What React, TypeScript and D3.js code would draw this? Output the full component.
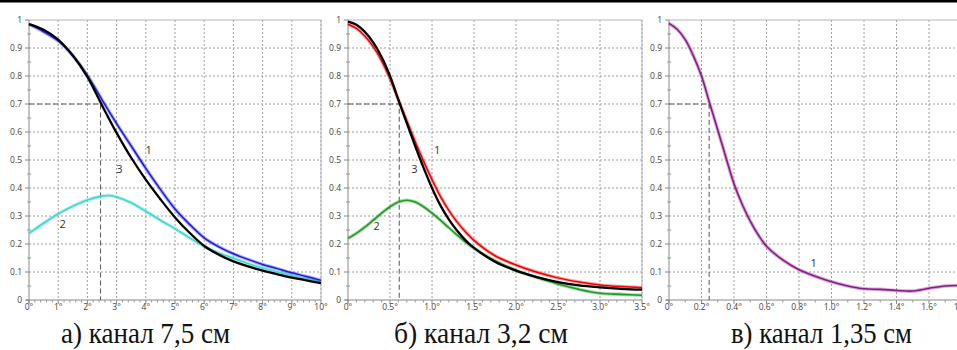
import React, { useEffect, useRef } from 'react';
import * as d3 from 'd3';

type Pt = [number, number];

// а) канал 7,5 см
const A_CURVE1: Pt[] = [
  [0, 0.985], [0.5, 0.958], [1, 0.925], [1.5, 0.873], [2, 0.802], [2.5, 0.715], [3, 0.63],
  [3.5, 0.55], [4, 0.47], [4.5, 0.395], [5, 0.325], [5.5, 0.27], [6, 0.222], [6.5, 0.19],
  [7, 0.165], [7.5, 0.145], [8, 0.127], [8.5, 0.112], [9, 0.097], [9.5, 0.084], [10, 0.07],
];
const A_CURVE2: Pt[] = [
  [0, 0.238], [0.5, 0.274], [1, 0.308], [1.5, 0.335], [2, 0.357], [2.5, 0.371], [2.75, 0.373],
  [3, 0.368], [3.5, 0.347], [4, 0.317], [4.5, 0.285], [5, 0.255], [5.5, 0.222], [6, 0.192],
  [6.5, 0.168], [7, 0.149], [7.5, 0.13], [8, 0.114], [8.5, 0.1], [9, 0.087], [9.5, 0.075], [10, 0.065],
];
const A_CURVE3: Pt[] = [
  [0, 0.985], [0.5, 0.965], [1, 0.93], [1.5, 0.873], [2, 0.797], [2.5, 0.695], [3, 0.597],
  [3.5, 0.508], [4, 0.43], [4.5, 0.36], [5, 0.295], [5.5, 0.24], [6, 0.193], [6.5, 0.162],
  [7, 0.138], [7.5, 0.12], [8, 0.105], [8.5, 0.092], [9, 0.08], [9.5, 0.07], [10, 0.06],
];

// б) канал 3,2 см
const B_CURVE1: Pt[] = [
  [0, 0.985], [0.1, 0.97], [0.2, 0.943], [0.3, 0.905], [0.4, 0.855], [0.5, 0.79], [0.6, 0.715],
  [0.7, 0.64], [0.8, 0.565], [0.9, 0.495], [1, 0.43], [1.1, 0.37], [1.2, 0.32], [1.3, 0.278],
  [1.4, 0.243], [1.5, 0.213], [1.75, 0.158], [2, 0.125], [2.25, 0.099], [2.5, 0.079], [2.75, 0.064],
  [3, 0.054], [3.25, 0.048], [3.5, 0.044],
];
const B_CURVE2: Pt[] = [
  [0, 0.22], [0.1, 0.238], [0.2, 0.26], [0.3, 0.285], [0.4, 0.31], [0.5, 0.333], [0.6, 0.35],
  [0.7, 0.356], [0.8, 0.35], [0.9, 0.333], [1, 0.31], [1.1, 0.285], [1.2, 0.258], [1.3, 0.232],
  [1.4, 0.207], [1.5, 0.185], [1.75, 0.14], [2, 0.106], [2.25, 0.08], [2.5, 0.057], [2.75, 0.038],
  [3, 0.024], [3.25, 0.02], [3.5, 0.017],
];
const B_CURVE3: Pt[] = [
  [0, 0.994], [0.1, 0.983], [0.2, 0.958], [0.3, 0.92], [0.4, 0.868], [0.5, 0.8], [0.6, 0.715],
  [0.7, 0.632], [0.8, 0.55], [0.9, 0.472], [1, 0.4], [1.1, 0.338], [1.2, 0.288], [1.3, 0.247],
  [1.4, 0.213], [1.5, 0.186], [1.75, 0.137], [2, 0.105], [2.25, 0.082], [2.5, 0.064], [2.75, 0.052],
  [3, 0.045], [3.25, 0.04], [3.5, 0.037],
];

// в) канал 1,35 см
const C_CURVE1: Pt[] = [
  [0, 0.988], [0.05, 0.967], [0.1, 0.93], [0.15, 0.872], [0.2, 0.8], [0.25, 0.703], [0.3, 0.607],
  [0.35, 0.51], [0.4, 0.415], [0.45, 0.342], [0.5, 0.282], [0.55, 0.232], [0.6, 0.192], [0.7, 0.143],
  [0.8, 0.108], [0.9, 0.085], [1, 0.065], [1.1, 0.05], [1.2, 0.04], [1.3, 0.038], [1.4, 0.034],
  [1.5, 0.032], [1.6, 0.042], [1.7, 0.05], [1.8, 0.052],
];

const Y_TICKS = [0, 0.1, 0.2, 0.3, 0.4, 0.5, 0.6, 0.7, 0.8, 0.9, 1];
const Y_LABELS = ['0', '0.1', '0.2', '0.3', '0.4', '0.5', '0.6', '0.7', '0.8', '0.9', '1'];
const A_X_TICKS = [0, 1, 2, 3, 4, 5, 6, 7, 8, 9, 10];
const A_X_LABELS = ['0°', '1°', '2°', '3°', '4°', '5°', '6°', '7°', '8°', '9°', '10°'];
const B_X_TICKS = [0, 0.5, 1, 1.5, 2, 2.5, 3, 3.5];
const B_X_LABELS = ['0°', '0.5°', '1.0°', '1.5°', '2.0°', '2.5°', '3.0°', '3.5°'];
const C_X_TICKS = [0, 0.2, 0.4, 0.6, 0.8, 1, 1.2, 1.4, 1.6, 1.8];
const C_X_LABELS = ['0°', '0.2°', '0.4°', '0.6°', '0.8°', '1.0°', '1.2°', '1.4°', '1.6°', '1.8°'];
const CAPTIONS = ['а) канал 7,5 см', 'б) канал 3,2 см', 'в) канал 1,35 см'];
const LEVEL = 0.7;
const CROSS = [2.45, 0.61, 0.247];

const App: React.FC = () => {
  const svgRef = useRef<SVGSVGElement>(null);

  useEffect(() => {
    if (!svgRef.current) return;
    const svg = d3.select(svgRef.current);
    svg.selectAll('*').remove();

    const top = 20;
    const bottom = 300;

    const panels = [
      {
        left: 29, right: 321, max: 10, ticks: A_X_TICKS, labels: A_X_LABELS, minor: 5, box: true,
        caption: CAPTIONS[0], capX: 61, capW: 169, cross: CROSS[0],
        series: [
          { d: A_CURVE2, color: '#40d8cc', w: 1.6, fuzz: true },
          { d: A_CURVE1, color: '#1a1ae0', w: 1.5, fuzz: true },
          { d: A_CURVE3, color: '#000', w: 2.3, fuzz: false },
        ],
        marks: [{ t: '1', x: 4.1, y: 0.535 }, { t: '3', x: 3.1, y: 0.468 }, { t: '2', x: 1.15, y: 0.27 }],
      },
      {
        left: 348, right: 642, max: 3.5, ticks: B_X_TICKS, labels: B_X_LABELS, minor: 5, box: true,
        caption: CAPTIONS[1], capX: 394, capW: 174, cross: CROSS[1],
        series: [
          { d: B_CURVE2, color: '#1f9a1f', w: 1.6, fuzz: true },
          { d: B_CURVE1, color: '#f00000', w: 1.5, fuzz: true },
          { d: B_CURVE3, color: '#000', w: 2.3, fuzz: false },
        ],
        marks: [{ t: '1', x: 1.06, y: 0.535 }, { t: '3', x: 0.79, y: 0.468 }, { t: '2', x: 0.34, y: 0.265 }],
      },
      {
        left: 669, right: 669 + 1.8 * 162.5, max: 1.8, ticks: C_X_TICKS, labels: C_X_LABELS, minor: 2, box: false,
        caption: CAPTIONS[2], capX: 731, capW: 181, cross: CROSS[2],
        series: [{ d: C_CURVE1, color: '#8a1a8a', w: 1.6, fuzz: true }],
        marks: [{ t: '1', x: 0.89, y: 0.13 }],
      },
    ];

    // top rule
    svg.append('rect').attr('x', 0).attr('y', 0).attr('width', 957).attr('height', 2.5).attr('fill', '#000');

    panels.forEach(p => {
      const x = d3.scaleLinear().domain([0, p.max]).range([p.left, p.right]);
      const y = d3.scaleLinear().domain([0, 1]).range([bottom, top]);
      const g = svg.append('g');

      // grid
      g.selectAll('.gy').data(Y_TICKS.slice(1, -1)).enter().append('line')
        .attr('x1', p.left).attr('x2', p.right)
        .attr('y1', d => y(d)).attr('y2', d => y(d))
        .attr('stroke', '#a0a0a0').attr('stroke-width', 1).attr('stroke-dasharray', '2,2');
      g.selectAll('.gx').data(p.ticks.slice(1)).enter().append('line')
        .attr('x1', d => x(d)).attr('x2', d => x(d))
        .attr('y1', top).attr('y2', bottom)
        .attr('stroke', '#a0a0a0').attr('stroke-width', 1).attr('stroke-dasharray', '2,2');

      // frame
      g.append('line').attr('x1', p.left).attr('x2', p.right).attr('y1', top).attr('y2', top)
        .attr('stroke', '#b5b5b5');
      if (p.box) {
        g.append('line').attr('x1', p.right).attr('x2', p.right).attr('y1', top).attr('y2', bottom)
          .attr('stroke', '#b5b5b5');
      }
      g.append('line').attr('x1', p.left).attr('x2', p.left).attr('y1', top).attr('y2', bottom + 3)
        .attr('stroke', '#888');
      g.append('line').attr('x1', p.left - 3).attr('x2', p.right).attr('y1', bottom).attr('y2', bottom)
        .attr('stroke', '#888');

      // y ticks
      g.selectAll('.ty').data(Y_TICKS).enter().append('line')
        .attr('x1', p.left - 4).attr('x2', p.left)
        .attr('y1', d => y(d)).attr('y2', d => y(d)).attr('stroke', '#888');
      g.selectAll('.tym').data(Y_TICKS.slice(0, -1)).enter().append('line')
        .attr('x1', p.left - 2).attr('x2', p.left + 2)
        .attr('y1', d => y(d + 0.05)).attr('y2', d => y(d + 0.05)).attr('stroke', '#999');
      g.selectAll('.ly').data(Y_TICKS).enter().append('text')
        .attr('x', p.left - 7).attr('y', d => y(d)).attr('dy', '0.35em')
        .attr('text-anchor', 'end')
        .style('font-family', "'Open Sans', sans-serif").style('font-size', '8.5px').style('fill', '#444')
        .text((d, i) => Y_LABELS[i]);

      // x ticks
      const step = p.ticks[1] - p.ticks[0];
      const minorTicks: number[] = [];
      p.ticks.slice(0, -1).forEach(t => {
        for (let k = 1; k < p.minor; k++) minorTicks.push(t + (step * k) / p.minor);
      });
      g.selectAll('.tx').data(p.ticks).enter().append('line')
        .attr('x1', d => x(d)).attr('x2', d => x(d))
        .attr('y1', bottom).attr('y2', bottom + 4).attr('stroke', '#888');
      g.selectAll('.txm').data(minorTicks).enter().append('line')
        .attr('x1', d => x(d)).attr('x2', d => x(d))
        .attr('y1', bottom).attr('y2', bottom + 2.5).attr('stroke', '#999');
      g.selectAll('.lx').data(p.ticks).enter().append('text')
        .attr('x', d => x(d)).attr('y', bottom + 10)
        .attr('text-anchor', 'middle')
        .style('font-family', "'Open Sans', sans-serif").style('font-size', '8.5px').style('fill', '#444')
        .text((d, i) => p.labels[i]);

      // 0.7 level guide
      g.append('path')
        .attr('d', `M${x(0)},${y(LEVEL)}H${x(p.cross)}V${y(0)}`)
        .attr('fill', 'none').attr('stroke', '#555').attr('stroke-width', 1).attr('stroke-dasharray', '5,3');

      // curves
      const line = d3.line<Pt>().x(d => x(d[0])).y(d => y(d[1])).curve(d3.curveCatmullRom.alpha(0.5));
      p.series.forEach(s => {
        if (s.fuzz) {
          g.append('path').attr('d', line(s.d)!).attr('fill', 'none')
            .attr('stroke', s.color).attr('stroke-opacity', 0.35).attr('stroke-width', s.w + 2);
        }
        g.append('path').attr('d', line(s.d)!).attr('fill', 'none')
          .attr('stroke', s.color).attr('stroke-width', s.w).attr('stroke-linejoin', 'round');
      });

      // curve numbers
      g.selectAll('.mk').data(p.marks).enter().append('text')
        .attr('x', d => x(d.x)).attr('y', d => y(d.y)).attr('dy', '0.35em')
        .attr('text-anchor', 'middle')
        .style('font-family', "'Open Sans', sans-serif").style('font-size', '11px').style('fill', '#333')
        .text(d => d.t);

      // caption
      svg.append('text')
        .attr('x', p.capX).attr('y', 343)
        .attr('textLength', p.capW).attr('lengthAdjust', 'spacingAndGlyphs')
        .attr('font-family', "'Liberation Serif', serif")
        .attr('font-size', 29).attr('fill', '#111')
        .text(p.caption);
    });
  }, []);

  return (
    <svg ref={svgRef} width={957} height={350}
      style={{ position: 'absolute', left: 0, top: 0, background: '#fff' }} />
  );
};

export default App;
